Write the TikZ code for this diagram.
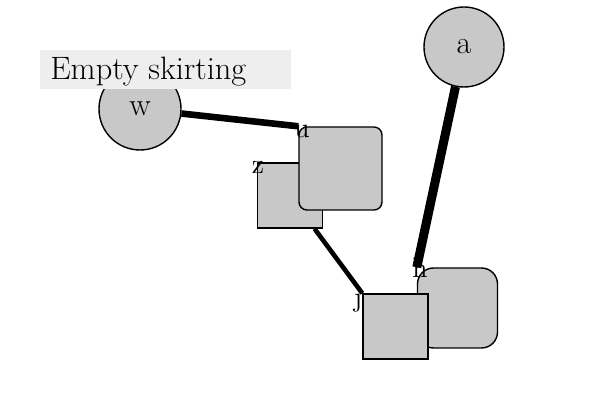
\documentclass[tikz,border=0pt]{standalone}
\definecolor{nodegray}{HTML}{C8C8C8}
\definecolor{tagbg}{HTML}{EEEEEE}
\begin{document}
\begin{tikzpicture}[x=0.5pt,y=-0.5pt,
  shp/.style={draw=black,fill=nodegray,line width=0.7pt,inner sep=0pt},
  circ/.style={shp,circle,minimum size=#1},
  sq/.style={shp,rectangle,minimum size=#1},
  rsq/.style={shp,rectangle,rounded corners=4pt,minimum size=#1},
  rsqb/.style={shp,rectangle,rounded corners=8pt,minimum size=#1},
  lab/.style={inner sep=0pt,font=\fontsize{14}{16}\selectfont},
  edge/.style={line width=#1,draw=black}]
\useasboundingbox (0,0) rectangle (600,400);
\node[circ=41pt,font=\fontsize{16}{18}\selectfont] (w) at (140,109) {w};
\node[circ=40pt,font=\fontsize{16}{18}\selectfont] (a) at (464,47) {a};
\node[fill=tagbg,minimum width=125.5pt,minimum height=19.5pt,inner sep=0pt] (t) at (165.5,69.5) {};
\node[anchor=base west,inner sep=0pt,font=\fontsize{16.2}{19}\selectfont] (tt) at (50,80) {Empty skirting};
\node[sq=32.5pt] (z) at (290,195.5) {};
\node[rsq=41.5pt] (u) at (340.5,168.5) {};
\node[rsqb=40pt] (h) at (457.5,308) {};
\node[sq=32.5pt] (j) at (395.5,326.5) {};
\node[lab] (lu) at (302,131) {u};
\node[lab] (lz) at (258,167) {z};
\node[lab] (lh) at (420,268) {h};
\node[lab] (lj) at (358,300) {j};
\draw[edge=3.3pt] (w) -- (u.north west);
\draw[edge=4.5pt] (a) -- (h.north west);
\draw[edge=2.3pt] (z) -- (j.north west);
\end{tikzpicture}
\end{document}
